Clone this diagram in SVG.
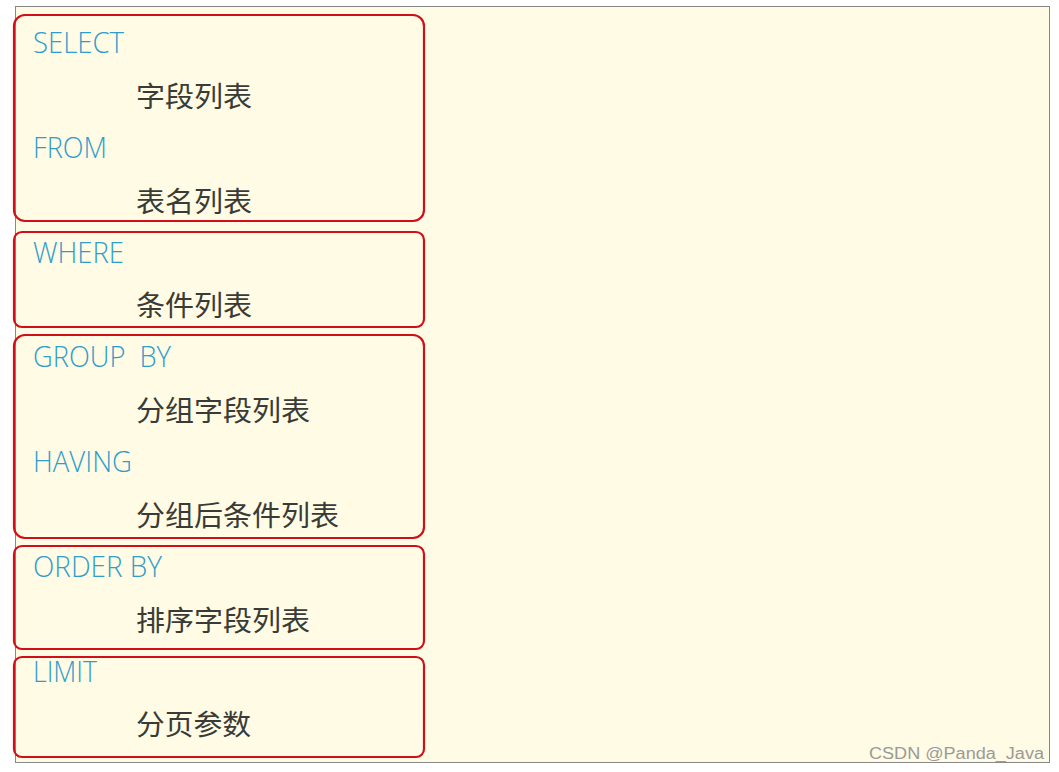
<svg xmlns="http://www.w3.org/2000/svg" width="1059" height="772" viewBox="0 0 1059 772">
<style>
.box{fill:none;stroke:#d01018;stroke-width:2.2}
.kw{font-family:"Open Sans","Liberation Sans",sans-serif;font-weight:300;font-size:29px;fill:#2f9dcc}
.cn{font-family:"Noto Sans CJK SC",sans-serif;font-size:28.5px;fill:#3a3a36}
.wm{font-family:"Liberation Sans",Arial,sans-serif;font-size:16px;fill:#9a9a9a}
</style>
<rect x="0" y="0" width="1059" height="772" fill="#ffffff"/>
<rect x="15.5" y="6.5" width="1034" height="756" fill="#fffbe4" stroke="#888888" stroke-width="1"/>
<g id="select">
<rect class="box" x="14" y="15" width="410" height="206" rx="11"/>
<text class="kw" x="33" y="53" textLength="91" lengthAdjust="spacingAndGlyphs">SELECT</text>
<text class="cn" x="136" y="107" textLength="116" lengthAdjust="spacingAndGlyphs">字段列表</text>
<text class="kw" x="33" y="158" textLength="74" lengthAdjust="spacingAndGlyphs">FROM</text>
<text class="cn" x="136" y="212" textLength="116" lengthAdjust="spacingAndGlyphs">表名列表</text>
</g>
<g id="where">
<rect class="box" x="14" y="232" width="410" height="95" rx="8"/>
<text class="kw" x="33" y="263" textLength="91" lengthAdjust="spacingAndGlyphs">WHERE</text>
<text class="cn" x="136" y="316" textLength="116" lengthAdjust="spacingAndGlyphs">条件列表</text>
</g>
<g id="groupby">
<rect class="box" x="14" y="335" width="410" height="203" rx="11"/>
<text class="kw" x="33" y="367" textLength="138" lengthAdjust="spacingAndGlyphs" xml:space="preserve">GROUP  BY</text>
<text class="cn" x="136" y="421" textLength="174" lengthAdjust="spacingAndGlyphs">分组字段列表</text>
<text class="kw" x="33" y="472" textLength="99" lengthAdjust="spacingAndGlyphs">HAVING</text>
<text class="cn" x="136" y="526" textLength="203" lengthAdjust="spacingAndGlyphs">分组后条件列表</text>
</g>
<g id="orderby">
<rect class="box" x="14" y="546" width="410" height="103" rx="8"/>
<text class="kw" x="33" y="577" textLength="129" lengthAdjust="spacingAndGlyphs">ORDER BY</text>
<text class="cn" x="136" y="631" textLength="174" lengthAdjust="spacingAndGlyphs">排序字段列表</text>
</g>
<g id="limit">
<rect class="box" x="14" y="657" width="410" height="100" rx="8"/>
<text class="kw" x="33" y="682" textLength="64" lengthAdjust="spacingAndGlyphs">LIMIT</text>
<text class="cn" x="136" y="735" textLength="115" lengthAdjust="spacingAndGlyphs">分页参数</text>
</g>
<g id="connectors"></g>
<text class="wm" x="869" y="759" textLength="175" lengthAdjust="spacingAndGlyphs">CSDN @Panda_Java</text>
</svg>
